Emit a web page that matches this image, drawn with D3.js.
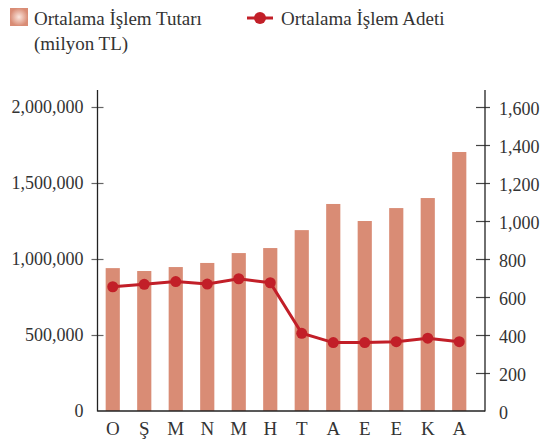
<!DOCTYPE html>
<html>
<head>
<meta charset="utf-8">
<script src="https://cdn.jsdelivr.net/npm/d3@7"></script>
<style>
  body { margin: 0; background: #fff; }
  text { font-family: "Liberation Serif", "Times New Roman", serif; fill: #333; }
</style>
</head>
<body>
<div id="chart"></div>
<script>
// months (Turkish initials)
var months = ["O", "Ş", "M", "N", "M", "H", "T", "A", "E", "E", "K", "A"];
// Ortalama İşlem Tutarı (bars, left axis)
var tutar = [940000, 921000, 947000, 974000, 1039000, 1072000, 1190000, 1362000, 1250000, 1335000, 1401000, 1704000];
// Ortalama İşlem Adeti (line, right axis)
var adet = [654, 667, 681, 668, 696, 675, 409, 360, 360, 365, 383, 365];
var leftTicks = [0, 500000, 1000000, 1500000, 2000000];
var rightTicks = [0, 200, 400, 600, 800, 1000, 1200, 1400, 1600];

var svgWidth = 551;
var svgHeight = 444;

var axisL = 97.5, axisR = 485, axisTop = 90, axisBottom = 411;

var svg = d3.select("#chart")
  .append("svg")
  .attr("width", svgWidth)
  .attr("height", svgHeight);

var barColor = "#d98c75";
var lineColor = "#c21f28";

// scales
var x = d3.scaleBand()
  .domain(d3.range(months.length))
  .range([97, 475])
  .paddingInner(0.55)
  .paddingOuter(0.275);

var yLeft = d3.scaleLinear()
  .domain([0, 2000000])
  .range([axisBottom, 107]);

var yRight = d3.scaleLinear()
  .domain([0, 1600])
  .range([axisBottom, 107]);

// bars
svg.append("g").selectAll("rect")
  .data(tutar)
  .enter()
  .append("rect")
  .attr("x", (d, i) => x(i))
  .attr("width", x.bandwidth())
  .attr("y", d => yLeft(d))
  .attr("height", d => axisBottom - yLeft(d))
  .attr("fill", barColor);

// axes
var leftAxis = d3.axisLeft(yLeft)
  .tickValues(leftTicks)
  .tickFormat(d3.format(","))
  .tickSize(6)
  .tickPadding(8);

var gl = svg.append("g")
  .attr("transform", `translate(${axisL},0)`)
  .call(leftAxis);
gl.select(".domain").remove();
gl.selectAll(".tick line").attr("x1", -6).attr("x2", 6).attr("stroke", "#666").attr("stroke-width", 1.2);
gl.selectAll(".tick").filter(d => d === 0).select("line").remove();
gl.selectAll(".tick text").style("font-size", "18px").attr("fill", "#333");

var rightAxis = d3.axisRight(yRight)
  .tickValues(rightTicks)
  .tickFormat(d3.format(","))
  .tickSize(6)
  .tickPadding(8);

var gr = svg.append("g")
  .attr("transform", `translate(${axisR},0)`)
  .call(rightAxis);
gr.select(".domain").remove();
gr.selectAll(".tick line").attr("x1", -9).attr("x2", 5).attr("stroke", "#444").attr("stroke-width", 1.2);
gr.selectAll(".tick").filter(d => d === 0).select("line").remove();
gr.selectAll(".tick text").style("font-size", "18px").attr("fill", "#333").attr("x", 14).attr("dy", "0.4em");

// axis lines
svg.append("line")
  .attr("x1", axisL).attr("x2", axisL)
  .attr("y1", axisTop).attr("y2", axisBottom + 0.5)
  .attr("stroke", "#222").attr("stroke-width", 1.3);
svg.append("line")
  .attr("x1", axisR).attr("x2", axisR)
  .attr("y1", axisTop).attr("y2", axisBottom + 0.5)
  .attr("stroke", "#222").attr("stroke-width", 1.3);
svg.append("line")
  .attr("x1", axisL).attr("x2", axisR)
  .attr("y1", axisBottom).attr("y2", axisBottom)
  .attr("stroke", "#222").attr("stroke-width", 1.3);

// x labels
svg.append("g").selectAll("text")
  .data(months)
  .enter()
  .append("text")
  .attr("x", (d, i) => x(i) + x.bandwidth() / 2)
  .attr("y", 435)
  .attr("text-anchor", "middle")
  .style("font-size", "19px")
  .text(d => d);

// line
var line = d3.line()
  .x((d, i) => x(i) + x.bandwidth() / 2)
  .y(d => yRight(d));

svg.append("path")
  .datum(adet)
  .attr("d", line)
  .attr("fill", "none")
  .attr("stroke", lineColor)
  .attr("stroke-width", 3);

svg.append("g").selectAll("circle")
  .data(adet)
  .enter()
  .append("circle")
  .attr("cx", (d, i) => x(i) + x.bandwidth() / 2)
  .attr("cy", d => yRight(d))
  .attr("r", 5.5)
  .attr("fill", lineColor);

// legend
var defs = svg.append("defs");
var grad = defs.append("radialGradient").attr("id", "sq");
grad.append("stop").attr("offset", "0%").attr("stop-color", "#fbe6de");
grad.append("stop").attr("offset", "100%").attr("stop-color", barColor);

svg.append("rect")
  .attr("x", 10).attr("y", 8)
  .attr("width", 18).attr("height", 18)
  .attr("fill", "url(#sq)");

svg.append("text")
  .attr("x", 34).attr("y", 25)
  .style("font-size", "19px")
  .text("Ortalama İşlem Tutarı");
svg.append("text")
  .attr("x", 34).attr("y", 50)
  .style("font-size", "19px")
  .text("(milyon TL)");

svg.append("line")
  .attr("x1", 247).attr("x2", 273)
  .attr("y1", 18).attr("y2", 18)
  .attr("stroke", lineColor).attr("stroke-width", 3);
svg.append("circle")
  .attr("cx", 260).attr("cy", 18).attr("r", 6)
  .attr("fill", lineColor);
svg.append("text")
  .attr("x", 281).attr("y", 25)
  .style("font-size", "19px")
  .text("Ortalama İşlem Adeti");
</script>
</body>
</html>
